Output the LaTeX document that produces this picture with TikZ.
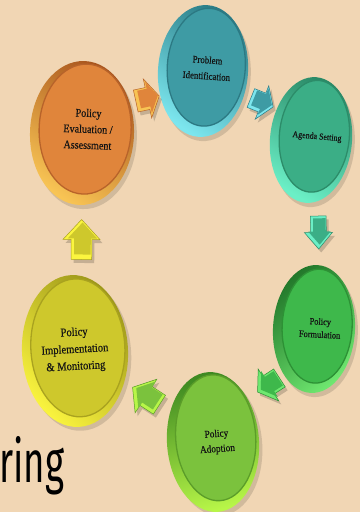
\documentclass[tikz,border=0pt]{standalone}
\usepackage{fontspec}
\setmainfont{Liberation Serif}
\newfontfamily\discfont[FakeStretch=0.88,FakeBold=0.4]{Liberation Serif}
\newfontfamily\ringfont[FakeStretch=0.62]{Fira Sans}
\usetikzlibrary{calc}

\definecolor{bgcol}{HTML}{F1D6B4}
\definecolor{textDark}{HTML}{141414}
% stage colours: face, edge, light rim, dark rim
\definecolor{probFace}{HTML}{3E9BA4}\definecolor{probEdge}{HTML}{2C7983}
\definecolor{probLight}{HTML}{7CE6EE}\definecolor{probDark}{HTML}{2A7C86}
\definecolor{agendaFace}{HTML}{3BAE86}\definecolor{agendaEdge}{HTML}{2C8C69}
\definecolor{agendaLight}{HTML}{6BEFC6}\definecolor{agendaDark}{HTML}{2A8A67}
\definecolor{formFace}{HTML}{3EB84B}\definecolor{formEdge}{HTML}{2D9135}
\definecolor{formLight}{HTML}{6FE870}\definecolor{formDark}{HTML}{22772A}
\definecolor{adoptFace}{HTML}{7BC23D}\definecolor{adoptEdge}{HTML}{5B9D29}
\definecolor{adoptLight}{HTML}{B8F648}\definecolor{adoptDark}{HTML}{3F8A22}
\definecolor{implFace}{HTML}{CEC82C}\definecolor{implEdge}{HTML}{A9A21F}
\definecolor{implLight}{HTML}{FBF53F}\definecolor{implDark}{HTML}{9C9618}
\definecolor{evalFace}{HTML}{E0853B}\definecolor{evalEdge}{HTML}{B8632A}
\definecolor{evalLight}{HTML}{F8C454}\definecolor{evalDark}{HTML}{A9551D}

\tikzset{
  disctext/.style={align=center,text=textDark,inner sep=0pt},
  prob rim/.style={top color=probDark,bottom color=probLight,shading angle=-35},
  prob face/.style={fill=probFace,draw=probEdge,line width=1.3pt,shift={(3,4)}},
  agenda rim/.style={top color=agendaDark,bottom color=agendaLight,shading angle=-30},
  agenda face/.style={fill=agendaFace,draw=agendaEdge,line width=1.3pt,shift={(3,4)}},
  form rim/.style={top color=formDark,bottom color=formLight,shading angle=40},
  form face/.style={fill=formFace,draw=formEdge,line width=1.3pt,shift={(3,3)}},
  adopt rim/.style={top color=adoptDark,bottom color=adoptLight,shading angle=15},
  adopt face/.style={fill=adoptFace,draw=adoptEdge,line width=1.3pt,shift={(3,4)}},
  impl rim/.style={top color=implDark,bottom color=implLight,shading angle=-45},
  impl face/.style={fill=implFace,draw=implEdge,line width=1.3pt,shift={(3,3)}},
  eval rim/.style={top color=evalDark,bottom color=evalLight,shading angle=-35},
  eval face/.style={fill=evalFace,draw=evalEdge,line width=1.3pt,shift={(3,4)}},
}

% #1 name, #2 centre, #3 x radius, #4 y radius, #5 tilt, #6 colour prefix,
% #7 {size}{skip}, #8 label, #9 label offset
\newcommand\disc[9]{%
  \begin{scope}[shift={(#2)},rotate=#5]
    \fill[black,opacity=.13] (3,-4) ellipse [x radius=#3, y radius=#4];
    \shade[#6 rim] (0,0) ellipse [x radius=#3, y radius=#4];
    \filldraw[#6 face] (0,0) ellipse [x radius=#3-6, y radius=#4-7];
  \end{scope}
  \node[disctext,rotate=#5,font=\discfont\fontsize#7\selectfont] (#1) at ($(#2)+(#9)$) {#8};
}

% block arrow halfway between two stages
% #1 name, #2 from, #3 to, #4 colour prefix, #5 length, #6 width, #7 extra turn
\newcommand\blockarrow[7]{%
  \coordinate (#1) at ($(#2)!.5!(#3)$);
  \pgfmathanglebetweenpoints{\pgfpointanchor{#2}{center}}{\pgfpointanchor{#3}{center}}%
  \let\arrbase\pgfmathresult
  \pgfmathsetmacro\arrang{\arrbase+#7}%
  \pgfmathsetmacro\hl{#5/2}%
  \pgfmathsetmacro\hw{#6/2}%
  \pgfmathsetmacro\hs{#6*0.28}%
  \begin{scope}[shift={($(#1)+(2.5,-3.5)$)},rotate=\arrang]
    \fill[black,opacity=.18] (-\hl,-\hs) -- (0,-\hs) -- (0,-\hw) -- (\hl,0) -- (0,\hw) -- (0,\hs) -- (-\hl,\hs) -- cycle;
  \end{scope}
  \begin{scope}[shift={(#1)},rotate=\arrang]
    \filldraw[fill=#4Light,draw=#4Edge,line width=.5pt] (-\hl,-\hs) -- (0,-\hs) -- (0,-\hw) -- (\hl,0) -- (0,\hw) -- (0,\hs) -- (-\hl,\hs) -- cycle;
  \end{scope}
  \begin{scope}[shift={($(#1)+(1,1)$)},rotate=\arrang,scale=.8]
    \fill[#4Face] (-\hl,-\hs) -- (0,-\hs) -- (0,-\hw) -- (\hl,0) -- (0,\hw) -- (0,\hs) -- (-\hl,\hs) -- cycle;
  \end{scope}
}

\begin{document}
\begin{tikzpicture}[x=1pt,y=1pt]
  \useasboundingbox (0,0) rectangle (360,512);
  \fill[bgcol] (0,0) rectangle (360,512);

  % the six stages of the cycle
  \disc{prob}{203,441}{45}{66}{-4}{prob}{{10}{16}}{Problem\\Identification}{4,3}
  \disc{agenda}{311,372}{41}{63}{-5}{agenda}{{9}{13}}{Agenda Setting}{6,3}
  \disc{form}{314,183}{41}{64}{-3}{form}{{9.5}{13}}{Policy\\Formulation}{6,1}
  \disc{adopt}{213,70}{46}{70}{4}{adopt}{{10.5}{15}}{Policy\\Adoption}{4,0}
  \disc{impl}{75,161}{53}{76}{3}{impl}{{12}{17}}{Policy\\Implementation\\\& Monitoring}{0,1}
  \disc{eval}{82,379}{52}{72}{-2}{eval}{{11.5}{16}}{Policy\\Evaluation /\\Assessment}{6,4}

  % arrows leading from each stage to the next
  \blockarrow{a1}{eval}{prob}{eval}{24}{40}{-15}
  \blockarrow{a2}{prob}{agenda}{prob}{24}{36}{10}
  \blockarrow{a3}{agenda}{form}{agenda}{33}{28}{0}
  \blockarrow{a4}{form}{adopt}{form}{26}{38}{-15}
  \blockarrow{a5}{adopt}{impl}{adopt}{32}{40}{0}
  \blockarrow{a6}{impl}{eval}{impl}{40}{37}{3}

  % tail of a title word
  \node[anchor=base west,inner sep=0pt,text=black,font=\ringfont\fontsize{59}{60}\selectfont] (ring) at (-1,29) {ring};
\end{tikzpicture}
\end{document}
